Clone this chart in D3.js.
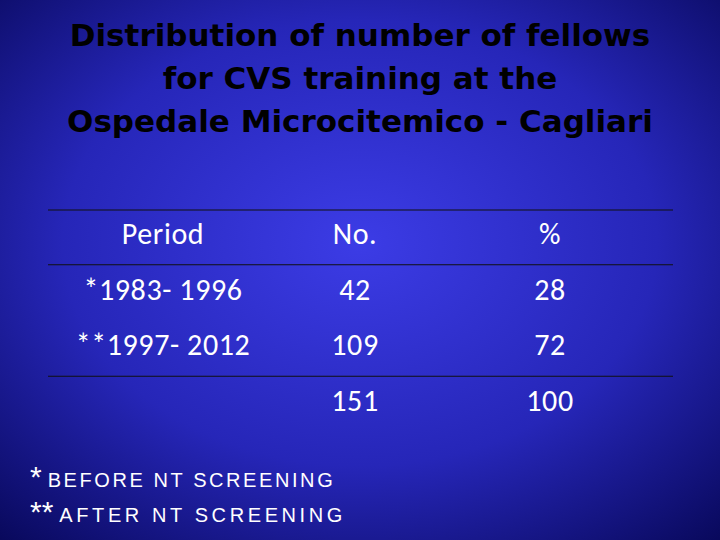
<!DOCTYPE html>
<html><head><meta charset="utf-8">
<script src="https://cdn.jsdelivr.net/npm/d3@7"></script>
<style>body{margin:0;background:#000}</style></head>
<body><script>
const titleLines=["Distribution of number of fellows","for CVS training at the","Ospedale Microcitemico - Cagliari"];
const headers=["Period","No.","%"];
const periods=["*1983- 1996","**1997- 2012",""];
const counts=["42","109","151"];
const percents=["28","72","100"];
const footnotes=[["*","BEFORE NT SCREENING"],["**","AFTER NT SCREENING"]];

const W=720,H=540;
const svg=d3.select("body").append("svg").attr("width",W).attr("height",H);
const defs=svg.append("defs");
const g=defs.append("radialGradient").attr("id","bg").attr("cx","50%").attr("cy","45%").attr("r","75%");
g.append("stop").attr("offset","0%").attr("stop-color","#3c3ce6");
g.append("stop").attr("offset","55%").attr("stop-color","#2626b8");
g.append("stop").attr("offset","100%").attr("stop-color","#08085a");
svg.append("rect").attr("width",W).attr("height",H).attr("fill","url(#bg)");

svg.selectAll("text.title").data(titleLines).join("text")
 .attr("x",360).attr("y",(d,i)=>46+i*43).attr("text-anchor","middle")
 .attr("font-family","'Comic Sans MS','DejaVu Sans',sans-serif").attr("font-weight","bold")
 .attr("font-size",31).attr("fill","#000").text(d=>d);

const xm=d3.scaleOrdinal().domain(headers).range([163,355,550]);
const rows=[headers].concat(periods.map((p,i)=>[p,counts[i],percents[i]]));
const y=d3.scaleBand().domain(d3.range(rows.length)).range([209,432]);
rows.forEach((r,i)=>{
 svg.selectAll(null).data(r).join("text")
  .attr("x",(d,j)=>xm(headers[j])).attr("y",y(i)+y.bandwidth()/2+7)
  .attr("text-anchor","middle").attr("font-family","Carlito,'Open Sans',sans-serif")
  .attr("font-size",30).attr("letter-spacing",0.6).attr("fill","#fff").text(d=>d);
});
[0,1,3].forEach(i=>svg.append("line").attr("x1",48).attr("x2",673)
 .attr("y1",y(i)+(i==0?1:0)).attr("y2",y(i)+(i==0?1:0)).attr("stroke","#111").attr("stroke-width",1.2));

footnotes.forEach((f,i)=>{
 const t=svg.append("text").attr("x",30).attr("y",487+i*35).attr("fill","#fff")
  .attr("font-family","'Liberation Sans',sans-serif");
 t.append("tspan").attr("font-size",30).text(f[0]);
 t.append("tspan").attr("font-size",20).attr("dx",6)
  .attr("textLength",i==0?285:283).attr("lengthAdjust","spacing").text(f[1]);
});
</script></body></html>
